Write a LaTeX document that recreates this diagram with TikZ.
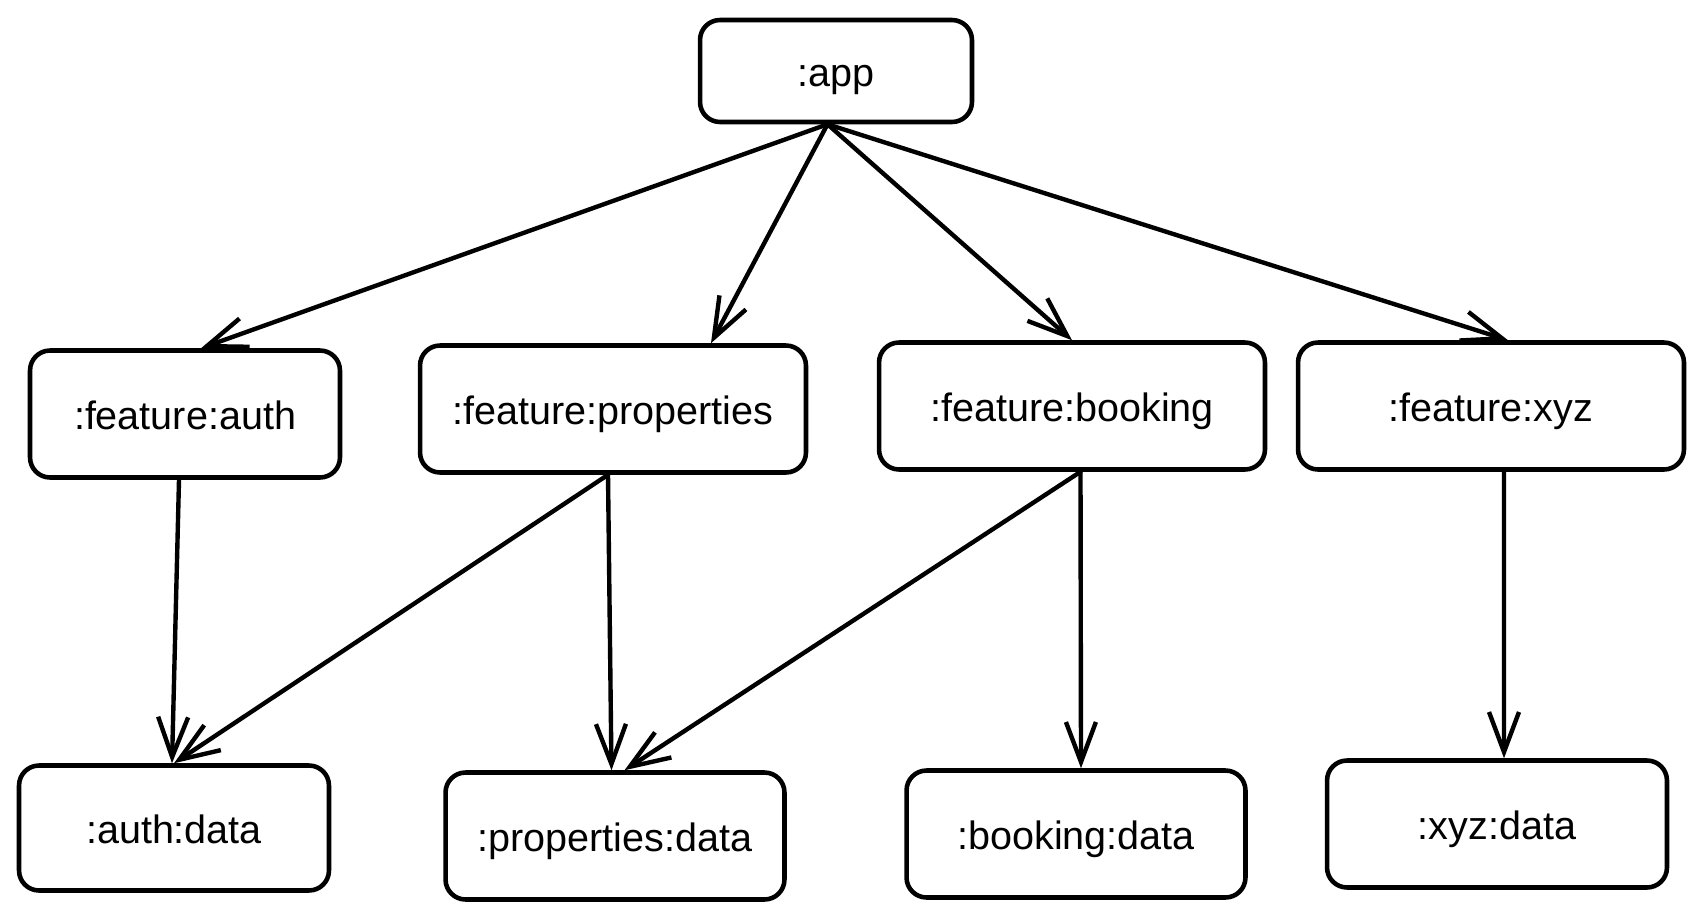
\documentclass[tikz,border=0pt]{standalone}
\usepackage{fontspec}
\setmainfont{Liberation Sans}
\usetikzlibrary{arrows.meta}
\tikzset {
  x=0.02cm, y=-0.02cm,
  % rounded module boxes
  module/.style = {draw, line width=2.6pt, rounded corners=0.4cm, inner sep=0pt,
    minimum height=2.54cm, text height=18pt, text depth=0pt,
    font=\fontsize{22.5}{27}\selectfont},
  % dependency arrows
  dep/.style = {line width=2.5pt, line cap=round, -{Straight Barb[length=0.8cm, width=0.6cm]}},
}
\begin{document}
\begin{tikzpicture}
  \useasboundingbox (0,0) rectangle (1703,920);

  \node[module, minimum width=5.44cm, minimum height=2.04cm] (app) at (836,71) {:app};

  \node[module, minimum width=6.2cm]  (fauth)  at (185,414)  {:feature:auth};
  \node[module, minimum width=7.72cm] (fprops) at (613,409)  {:feature:properties};
  \node[module, minimum width=7.72cm] (fbook)  at (1072,406) {:feature:booking};
  \node[module, minimum width=7.72cm] (fxyz)   at (1491,406) {:feature:xyz};

  \node[module, minimum width=6.2cm, minimum height=2.5cm] (dauth) at (174,828) {:auth:data};
  \node[module, minimum width=6.78cm] (dprops) at (615,836)  {:properties:data};
  \node[module, minimum width=6.78cm] (dbook)  at (1076,834) {:booking:data};
  \node[module, minimum width=6.8cm]  (dxyz)   at (1497,824) {:xyz:data};

  \draw [dep] ([xshift=-0.17cm]app.south) -- ([xshift=0.32cm]fauth.north);
  \draw [dep] ([xshift=-0.17cm]app.south) -- ([xshift=1.96cm]fprops.north);
  \draw [dep] ([xshift=-0.17cm]app.south) -- (fbook.north);
  \draw [dep] ([xshift=-0.17cm]app.south) -- ([xshift=0.34cm]fxyz.north);

  \draw [dep] ([xshift=-0.12cm]fauth.south) -- ([xshift=-0.04cm]dauth.north);
  \draw [dep] ([xshift=-0.1cm]fprops.south) -- (dauth.north);
  \draw [dep] ([xshift=-0.1cm]fprops.south) -- ([xshift=-0.07cm]dprops.north);
  \draw [dep] ([xshift=0.17cm]fbook.south) -- ([xshift=0.19cm]dprops.north);
  \draw [dep] ([xshift=0.17cm]fbook.south) -- ([xshift=0.1cm]dbook.north);
  \draw [dep] ([xshift=0.26cm]fxyz.south) -- ([xshift=0.14cm]dxyz.north);
\end{tikzpicture}
\end{document}
